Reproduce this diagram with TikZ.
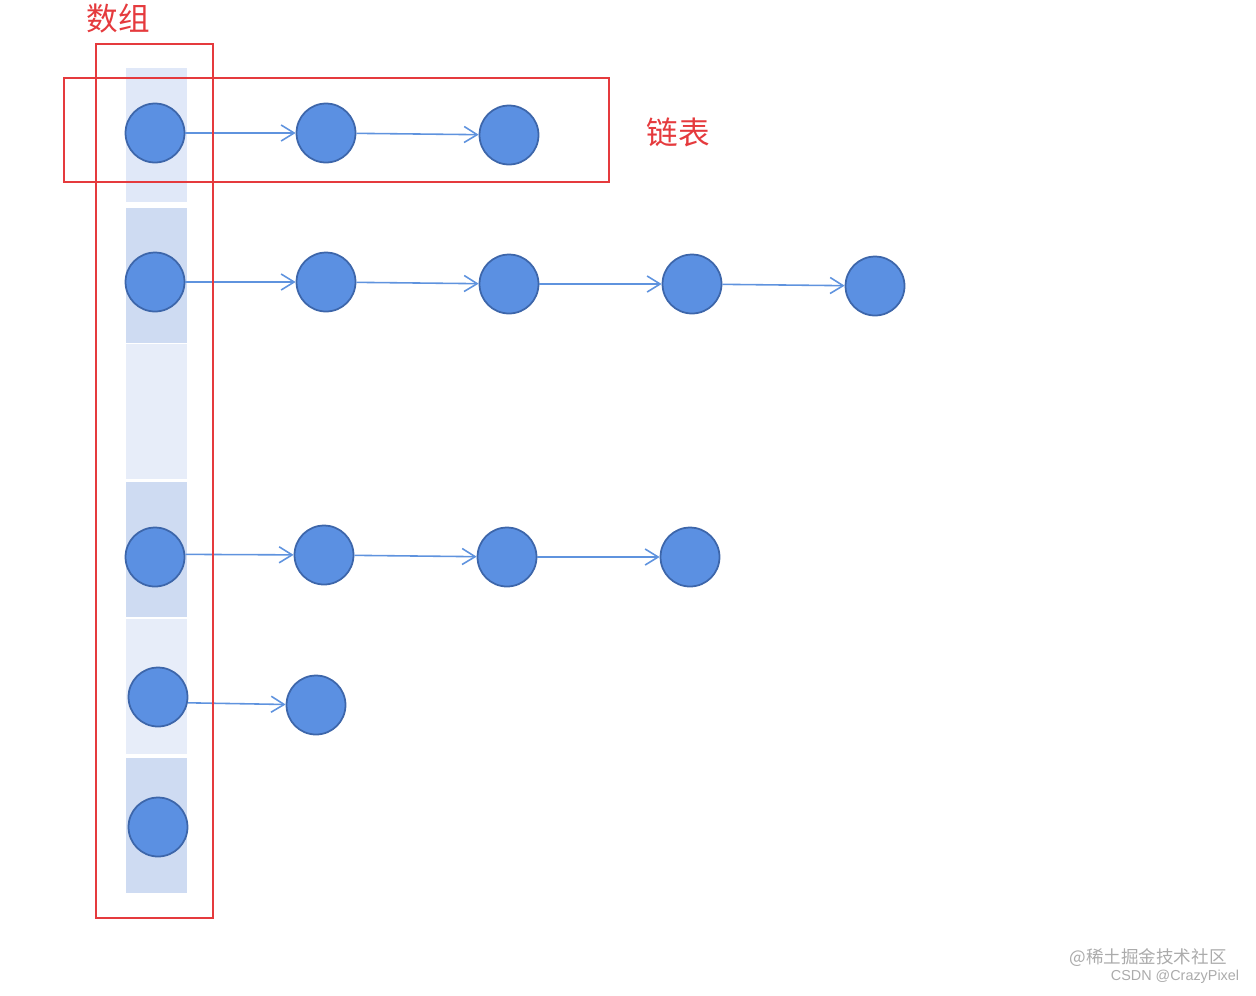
\documentclass[tikz,border=0pt]{standalone}
\usepackage{fontspec}
\setmainfont{Liberation Sans}
\newfontfamily\cjk{Noto Sans CJK SC}
\usetikzlibrary{arrows.meta}
\definecolor{nodefill}{HTML}{5B90E2}
\definecolor{nodeline}{HTML}{3D66AA}
\definecolor{linkblue}{HTML}{5F93DE}
\definecolor{framered}{HTML}{E53A3D}
\definecolor{celllight}{HTML}{E0E8F8}
\definecolor{cellpale}{HTML}{E7EDF9}
\definecolor{cellmid}{HTML}{CEDBF2}
\definecolor{markgray}{HTML}{ABABAB}

\begin{document}
\begin{tikzpicture}[
    x=0.02cm, y=-0.02cm,
    cell/.style={
        rectangle,
        minimum width=1.22cm,
        minimum height=2.7cm,
        inner sep=0pt,
        fill=#1
    },
    elem/.style={
        circle,
        minimum size=1.18cm,
        inner sep=0pt,
        fill=nodefill,
        draw=nodeline,
        line width=1pt
    },
    link/.style={
        -{Straight Barb[length=2.6mm,width=3.2mm]},
        line width=0.9pt,
        draw=linkblue
    },
    frame/.style={
        draw=framered,
        line width=0.7pt
    },
    tag/.style={
        font=\cjk\fontsize{18}{20}\selectfont,
        text=framered
    },
    wmark/.style={
        text=markgray,
        inner sep=0pt
    }
]

\useasboundingbox (0,0) rectangle (1256,995);

% array cells
\node[cell=celllight] (c1) at (156.5,135) {};
\node[cell=cellmid]   (c2) at (156.5,275) {};
\node[cell=cellpale]  (c3) at (156.5,411) {};
\node[cell=cellmid]   (c4) at (156.5,549) {};
\node[cell=cellpale]  (c5) at (156.5,686.5) {};
\node[cell=cellmid]   (c6) at (156.5,825) {};

% bucket heads
\node[elem] (a1) at (155,133) {};
\node[elem] (a2) at (155,282) {};
\node[elem] (a4) at (155,557) {};
\node[elem] (a5) at (158,697) {};
\node[elem] (a6) at (158,827) {};

% chains
\node[elem] (b1) at (326,133) {};
\node[elem] (b2) at (509,135) {};

\node[elem] (d1) at (326,282) {};
\node[elem] (d2) at (509,284) {};
\node[elem] (d3) at (692,284) {};
\node[elem] (d4) at (875,286) {};

\node[elem] (e1) at (324,555) {};
\node[elem] (e2) at (507,557) {};
\node[elem] (e3) at (690,557) {};

\node[elem] (f1) at (316,705) {};

\draw[link] (a1) -- (b1);
\draw[link] (b1) -- (b2);

\draw[link] (a2) -- (d1);
\draw[link] (d1) -- (d2);
\draw[link] (d2) -- (d3);
\draw[link] (d3) -- (d4);

\draw[link] (a4.5) -- (e1);
\draw[link] (e1) -- (e2);
\draw[link] (e2) -- (e3);

\draw[link] (a5.-11) -- (f1);

% frames
\draw[frame] (96,44) rectangle (213,918);
\draw[frame] (64,78) rectangle (609,182);

\node[tag] (arrtag) at (118,19) {数组};
\node[tag] (listtag) at (678,132) {链表};

% watermark
\node[wmark, font=\cjk\fontsize{10}{12}\selectfont] (wm1) at (1148,958) {@稀土掘金技术社区};
\node[wmark, font=\fontsize{8.2}{10}\selectfont] (wm2) at (1175,977) {CSDN @CrazyPixel};

\end{tikzpicture}
\end{document}
